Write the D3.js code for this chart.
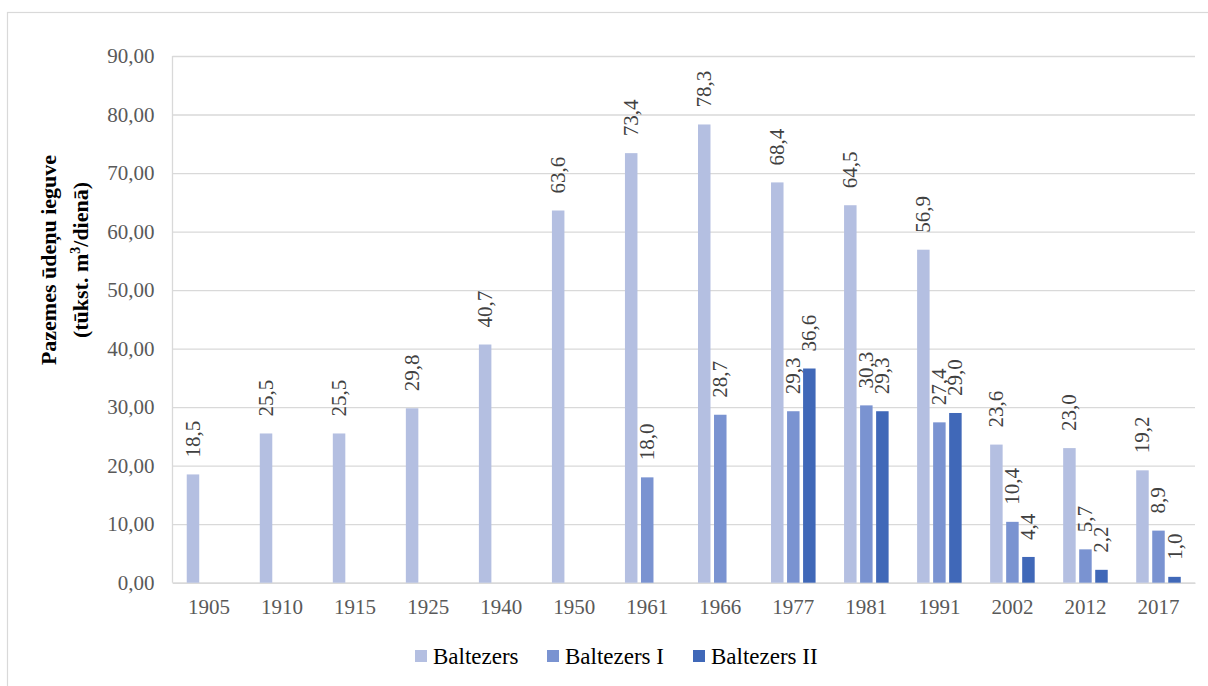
<!DOCTYPE html>
<html>
<head>
<meta charset="utf-8">
<script src="https://cdn.jsdelivr.net/npm/d3@7/dist/d3.min.js"></script>
<style>
  html, body { margin: 0; padding: 0; background: #fff; }
  svg { display: block; }
  text { font-family: "Liberation Serif", "Times New Roman", serif; }
</style>
</head>
<body>
<svg id="chart" width="1208" height="686"></svg>
<script>
// Groundwater abstraction by well field, thousand m3 per day
const years = ["1905", "1910", "1915", "1925", "1940", "1950", "1961", "1966", "1977", "1981", "1991", "2002", "2012", "2017"];
const seriesNames = ["Baltezers", "Baltezers I", "Baltezers II"];
const baltezers   = [18.5, 25.5, 25.5, 29.8, 40.7, 63.6, 73.4, 78.3, 68.4, 64.5, 56.9, 23.6, 23.0, 19.2];
const baltezersI  = [null, null, null, null, null, null, 18.0, 28.7, 29.3, 30.3, 27.4, 10.4, 5.7, 8.9];
const baltezersII = [null, null, null, null, null, null, null, null, 36.6, 29.3, 29.0, 4.4, 2.2, 1.0];
const yTickValues = [0, 10, 20, 30, 40, 50, 60, 70, 80, 90];
const seriesColors = ["#b4bfe1", "#7a93d1", "#4068b8"];

const seriesValues = [baltezers, baltezersI, baltezersII];

const locale = d3.formatLocale({ decimal: ",", thousands: " ", grouping: [3], currency: ["", " €"] });
const fmtAxis = locale.format(".2f");
const fmtLabel = locale.format(".1f");

const svg = d3.select("#chart");

// outer frame
svg.append("rect")
  .attr("x", 7.5).attr("y", 12.5)
  .attr("width", 1230).attr("height", 700)
  .attr("fill", "none").attr("stroke", "#d9d9d9").attr("stroke-width", 1.2);

const plot = { left: 172.5, right: 1195, top: 56, bottom: 582.7 };

const x0 = d3.scaleBand().domain(years).range([plot.left, plot.right]);
const groupWidth = x0.bandwidth() * 0.61;
const x1 = d3.scaleBand().domain(seriesNames)
  .range([(x0.bandwidth() - groupWidth) / 2, (x0.bandwidth() + groupWidth) / 2])
  .paddingInner(0.22);
const y = d3.scaleLinear().domain([0, 90]).range([plot.bottom, plot.top]);

// value axis with gridlines
const yAxis = svg.append("g")
  .attr("transform", `translate(${plot.left},0)`)
  .call(d3.axisLeft(y).tickValues(yTickValues).tickFormat(fmtAxis)
    .tickSize(-(plot.right - plot.left)).tickPadding(18));
yAxis.select(".domain").remove();
yAxis.selectAll(".tick line").attr("stroke", "#d9d9d9").attr("stroke-width", 1.3);
yAxis.selectAll(".tick text")
  .attr("fill", "#595959").attr("font-size", 21)
  .style("font-family", "'Liberation Serif', 'Times New Roman', serif");

// left edge of plot
svg.append("line")
  .attr("x1", plot.left).attr("x2", plot.left)
  .attr("y1", plot.top).attr("y2", plot.bottom)
  .attr("stroke", "#d9d9d9").attr("stroke-width", 1.3);

// category axis
const xAxis = svg.append("g")
  .attr("transform", `translate(0,${plot.bottom})`)
  .call(d3.axisBottom(x0).tickSize(0).tickPadding(16));
xAxis.select(".domain").attr("stroke", "#d9d9d9").attr("stroke-width", 1.5);
xAxis.selectAll(".tick text")
  .attr("fill", "#595959").attr("font-size", 21)
  .style("font-family", "'Liberation Serif', 'Times New Roman', serif");

// bars
const rows = [];
years.forEach((yr, i) => {
  seriesNames.forEach((s, j) => {
    const v = seriesValues[j][i];
    if (v !== null) rows.push({ year: yr, series: s, value: v, color: seriesColors[j] });
  });
});

svg.append("g").selectAll("rect")
  .data(rows).join("rect")
  .attr("x", d => x0(d.year) + x1(d.series))
  .attr("y", d => y(d.value))
  .attr("width", x1.bandwidth())
  .attr("height", d => y(0) - y(d.value))
  .attr("fill", d => d.color);

// value labels, rotated above each bar
svg.append("g").selectAll("text")
  .data(rows).join("text")
  .attr("transform", d => {
    const cx = x0(d.year) + x1(d.series) + x1.bandwidth() / 2;
    return `translate(${cx},${y(d.value) - 17}) rotate(-90)`;
  })
  .attr("text-anchor", "start")
  .attr("dominant-baseline", "central")
  .attr("font-size", 21)
  .attr("fill", "#404040")
  .text(d => fmtLabel(d.value));

// value axis title
const title = svg.append("text")
  .attr("transform", "translate(0,260) rotate(-90)")
  .attr("text-anchor", "middle")
  .attr("font-weight", "bold")
  .attr("font-size", 22)
  .attr("fill", "#000");
title.append("tspan").attr("x", 0).attr("y", 56).text("Pazemes ūdeņu ieguve");
const line2 = title.append("tspan").attr("x", 0).attr("y", 88);
line2.append("tspan").text("(tūkst. m");
line2.append("tspan").attr("font-size", 14).attr("dy", -8).text("3");
line2.append("tspan").attr("dy", 8).text("/dienā)");

// legend
const legendItems = [
  { name: seriesNames[0], color: seriesColors[0], x: 415 },
  { name: seriesNames[1], color: seriesColors[1], x: 547 },
  { name: seriesNames[2], color: seriesColors[2], x: 693 }
];
const legend = svg.append("g").selectAll("g")
  .data(legendItems).join("g")
  .attr("transform", d => `translate(${d.x},656)`);
legend.append("rect")
  .attr("x", 0).attr("y", -6).attr("width", 12).attr("height", 12)
  .attr("fill", d => d.color);
legend.append("text")
  .attr("x", 18).attr("y", 0)
  .attr("dominant-baseline", "central")
  .attr("font-size", 23)
  .attr("fill", "#000")
  .text(d => d.name);
</script>
</body>
</html>
